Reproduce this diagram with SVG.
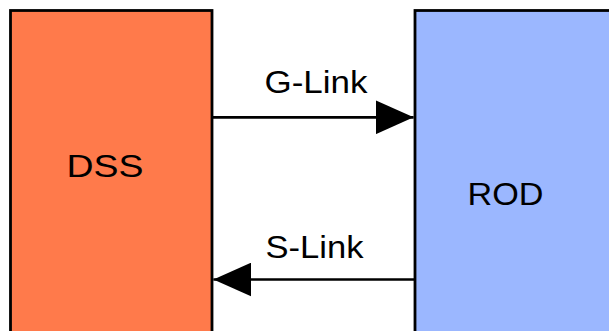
<svg xmlns="http://www.w3.org/2000/svg" width="609" height="331" viewBox="0 0 609 331">
  <style>
    .box { stroke: #000; stroke-width: 2.8; }
    .dss { fill: #FF7A4B; }
    .rod { fill: #9BB7FF; }
    .lbl { font-family: "Liberation Sans", Arial, sans-serif; font-size: 32px; fill: #000; }
    .conn { stroke: #000; stroke-width: 2.7; fill: none; }
  </style>
  <defs>
    <marker id="arrow" viewBox="0 0 38 34" refX="38" refY="17" markerWidth="38" markerHeight="34" markerUnits="userSpaceOnUse" orient="auto">
      <path d="M0,0 L38,17 L0,34 Z" fill="#000"/>
    </marker>
  </defs>
  <rect width="609" height="331" fill="#fff"/>
  <g id="node-dss">
    <rect class="box dss" x="10.5" y="10.5" width="201.5" height="340"/>
    <text class="lbl" x="66.5" y="177" textLength="77" lengthAdjust="spacingAndGlyphs">DSS</text>
  </g>
  <g id="node-rod">
    <rect class="box rod" x="415" y="10.5" width="210" height="340"/>
    <text class="lbl" x="467.5" y="204.5" textLength="76" lengthAdjust="spacingAndGlyphs">ROD</text>
  </g>
  <g id="connectors">
    <path class="conn" d="M212,117.3 L413.6,117.3" marker-end="url(#arrow)"/>
    <text class="lbl" x="264.5" y="93" textLength="103" lengthAdjust="spacingAndGlyphs">G-Link</text>
    <path class="conn" d="M415,279.5 L213.4,279.5" marker-end="url(#arrow)"/>
    <text class="lbl" x="265.5" y="257.5" textLength="98" lengthAdjust="spacingAndGlyphs">S-Link</text>
  </g>
</svg>
